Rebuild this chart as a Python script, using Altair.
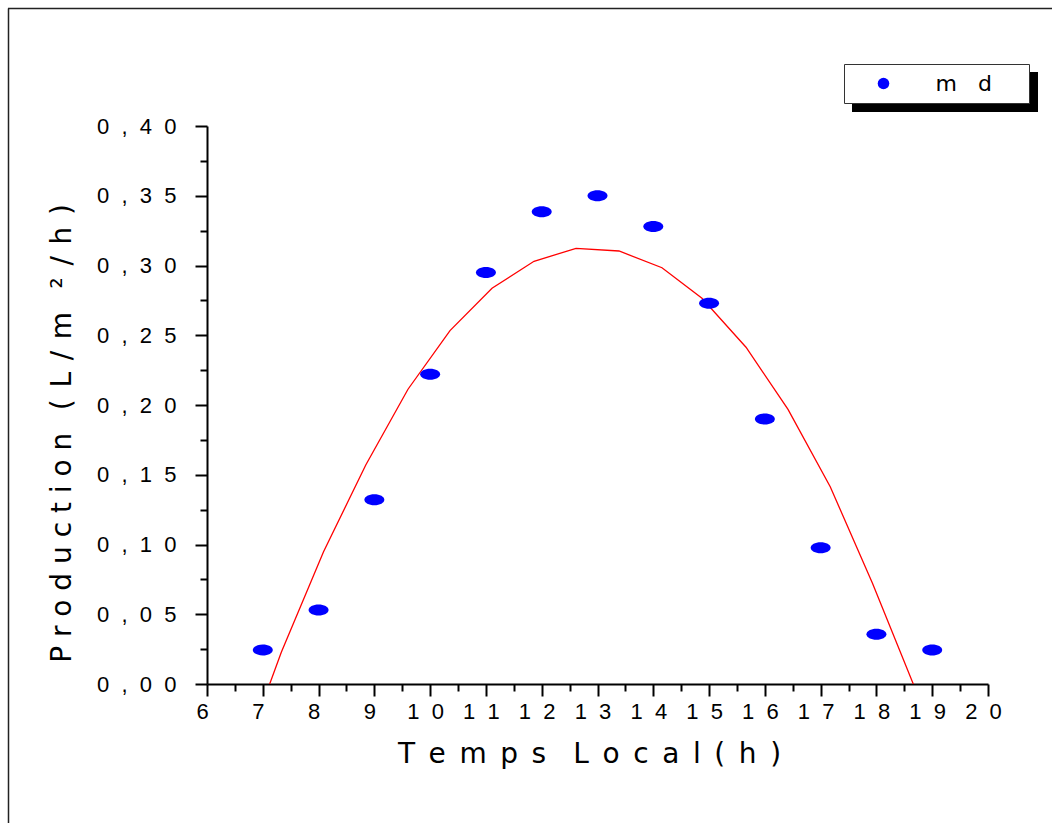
import altair as alt
import pandas as pd

NB = "\u00a0"

# measured points (Temps local, production)
hours = [7, 8, 9, 10, 11, 12, 13, 14, 15, 16, 17, 18, 19]
production = [0.0244, 0.053, 0.132, 0.222, 0.295, 0.3386, 0.350, 0.328, 0.273, 0.190, 0.0977, 0.0356, 0.0244]
series_name = "m" + NB * 3 + "d" + NB * 4 + "\u200b"

# fitted curve (red line)
fit_x = [6.575, 7.332, 8.089, 8.846, 9.603, 10.356, 11.109, 11.862, 12.615, 13.385,
         14.156, 14.873, 15.662, 16.415, 17.172, 17.929, 18.686]
fit_y = [-0.060, 0.0228, 0.0948, 0.157, 0.2113, 0.2533, 0.2837, 0.3030, 0.3123, 0.3104,
         0.2984, 0.2765, 0.2414, 0.1969, 0.1414, 0.0722, -0.0025]

x_major = list(range(6, 21))
x_minor = [v + 0.5 for v in range(6, 20)]
y_major = [0.0, 0.05, 0.10, 0.15, 0.20, 0.25, 0.30, 0.35, 0.40]
y_minor = [0.025, 0.075, 0.125, 0.175, 0.225, 0.275, 0.325, 0.375]

g = NB + "\u2006"
x_title = g.join("Temps") + g * 2 + g.join("Local") + g + g.join("(h)")
h = NB + "\u200a"
y_title = (NB.join("Production") + NB * 2 + "\u2006" + h.join("(L/m") + h * 2 + "²" + h + "/" + h
           + "h" + h + ")")

pts = pd.DataFrame({"t": hours, "p": production, "series": series_name})
fit = pd.DataFrame({"t": fit_x, "p": fit_y})
one = pd.DataFrame({"a": [0]})

xscale = alt.Scale(domain=[6, 20], nice=False, zero=False)
yscale = alt.Scale(domain=[0, 0.4], nice=False)

x_label_expr = ("datum.value < 10 ? '' + datum.value : floor(datum.value / 10) + '" + NB * 2 +
                "' + (datum.value % 10)")
y_label_expr = ("'0" + NB * 2 + "," + NB * 2 + "' + floor(round(datum.value * 100) / 10) + '" + NB * 2 +
                "' + (round(datum.value * 100) % 10)")

common_axis = dict(domainColor="black", tickColor="black", labelColor="black", titleColor="black",
                   grid=False, tickWidth=2, domainWidth=2)

x_axis = alt.Axis(values=x_major, orient="bottom", tickSize=12, labelFont="Liberation Sans",
                  labelFontSize=22, labelPadding=5, labelOffset=-5, labelExpr=x_label_expr,
                  labelFlush=False, labelOverlap=False,
                  title=x_title, titleFont="DejaVu Sans", titleFontSize=28, titleFontWeight="normal",
                  titleX=382, titleY=78, titleBaseline="alphabetic", titleAlign="center",
                  titleAnchor="start", **common_axis)
y_axis = alt.Axis(values=y_major, orient="left", tickSize=12, labelFont="Liberation Sans",
                  labelFontSize=22, labelPadding=19, labelExpr=y_label_expr, labelFlush=False,
                  labelOverlap=False,
                  title=y_title, titleFont="DejaVu Sans", titleFontSize=28, titleFontWeight="normal",
                  titleX=-137, titleY=307, titleBaseline="alphabetic", titleAlign="center",
                  titleAngle=270, titleAnchor="start", **common_axis)

x_minor_axis = alt.Axis(values=x_minor, orient="bottom", tickSize=7, labels=False, domain=False,
                        title="", **common_axis)
y_minor_axis = alt.Axis(values=y_minor, orient="left", tickSize=7, labels=False, domain=False,
                        title="", **common_axis)

line = alt.Chart(fit).mark_line(color="#ff0000", strokeWidth=1.3, clip=True).encode(
    x=alt.X("t:Q", scale=xscale, axis=x_axis),
    y=alt.Y("p:Q", scale=yscale, axis=y_axis),
)

minor = alt.Chart(fit).mark_point(opacity=0).encode(
    x=alt.X("t:Q", scale=xscale, axis=x_minor_axis),
    y=alt.Y("p:Q", scale=yscale, axis=y_minor_axis),
)

ellipse = "M-1,0A1,0.55,0,1,0,1,0A1,0.55,0,1,0,-1,0Z"
points = alt.Chart(pts).mark_point(shape=ellipse, filled=True, size=400, opacity=1,
                                    strokeWidth=0).encode(
    x=alt.X("t:Q", scale=xscale, axis=None),
    y=alt.Y("p:Q", scale=yscale, axis=None),
    color=alt.Color("series:N", scale=alt.Scale(domain=[series_name], range=["#0000ff"]),
                    legend=alt.Legend(orient="none", legendX=637, legendY=-62, title=None,
                                      padding=8.5, fillColor="white", strokeColor="#333333",
                                      symbolType="circle", symbolSize=133, symbolStrokeWidth=0,
                                      symbolOffset=20, labelOffset=41, labelFont="DejaVu Sans",
                                      labelFontSize=22, labelColor="black", labelLimit=300)),
)

shadow = alt.Chart(one).mark_rect(color="black").encode(
    x=alt.value(645), x2=alt.value(831), y=alt.value(-54), y2=alt.value(-14)
)
frame_left = alt.Chart(one).mark_rule(color="#222222", strokeWidth=1.5).encode(
    x=alt.value(-198.5), y=alt.value(-117.5), y2=alt.value(760)
)
frame_top = alt.Chart(one).mark_rule(color="#222222", strokeWidth=1.5).encode(
    x=alt.value(-199), x2=alt.value(900), y=alt.value(-117.5)
)

chart = alt.layer(frame_left, frame_top, shadow, minor, line, points).resolve_axis(
    x="independent", y="independent"
).properties(
    width=781, height=558,
    padding={"left": 207, "top": 126, "right": 64, "bottom": 139},
    autosize=alt.AutoSizeParams(type="none"),
    background="white",
).configure_view(stroke="transparent")

chart.save("out.html", embed_options={"renderer": "svg", "actions": False})
